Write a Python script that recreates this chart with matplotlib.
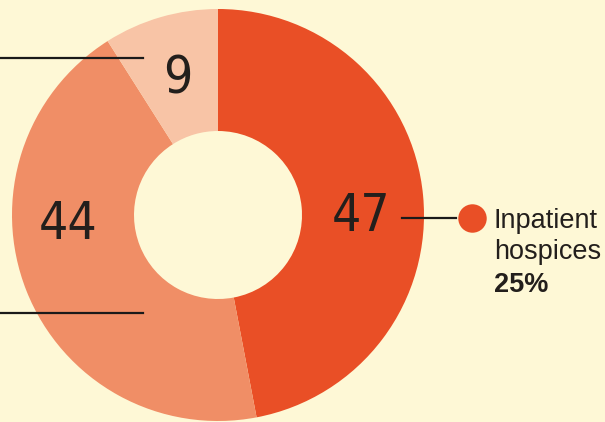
import matplotlib.pyplot as plt

# donut shares, clockwise from 12 o'clock
values = [47, 44, 9]
labels = ["47", "44", "9"]
colors = ["#E94F26", "#F08E66", "#F8C4A6"]
label_xy = [(361, 217), (68, 225), (178, 80)]
legend_lines = ["Inpatient", "hospices"]
legend_pct = "25%"

bg = "#FEF8D6"
W, H = 605, 422

fig = plt.figure(figsize=(W / 100, H / 100), dpi=100, facecolor=bg)
ax = fig.add_axes([0, 0, 1, 1])
ax.set_facecolor(bg)

cx, cy, r_out, r_in = 218, 215, 206, 84
# y axis is inverted, so counterclock=True draws clockwise on screen
ax.pie(values, colors=colors, startangle=-90, counterclock=True,
       center=(cx, cy), radius=r_out, frame=True,
       wedgeprops=dict(width=r_out - r_in, linewidth=0))
ax.set_xlim(0, W)
ax.set_ylim(H, 0)
ax.set_aspect("equal")
ax.axis("off")

for lab, (x, y) in zip(labels, label_xy):
    ax.text(x, y, lab, ha="center", va="center", fontsize=37,
            family="DejaVu Sans", fontstretch="condensed", color="#231f1c")

# leader lines
ax.plot([0, 143], [58, 58], color="#1a1a1a", lw=1.6)
ax.plot([0, 143], [313, 313], color="#1a1a1a", lw=1.6)
ax.plot([402, 456], [218, 218], color="#1a1a1a", lw=1.6)
ax.scatter([472], [218], s=420, color=colors[0], zorder=5, linewidths=0)

ax.text(494, 228, legend_lines[0], fontsize=19.5, family="Liberation Sans",
        color="#231f1c", va="baseline")
ax.text(494, 259, legend_lines[1], fontsize=19.5, family="Liberation Sans",
        color="#231f1c", va="baseline")
ax.text(494, 292, legend_pct, fontsize=19.5, family="Liberation Sans",
        fontweight="bold", color="#231f1c", va="baseline")

fig.savefig("out.png", dpi=100, facecolor=bg)
